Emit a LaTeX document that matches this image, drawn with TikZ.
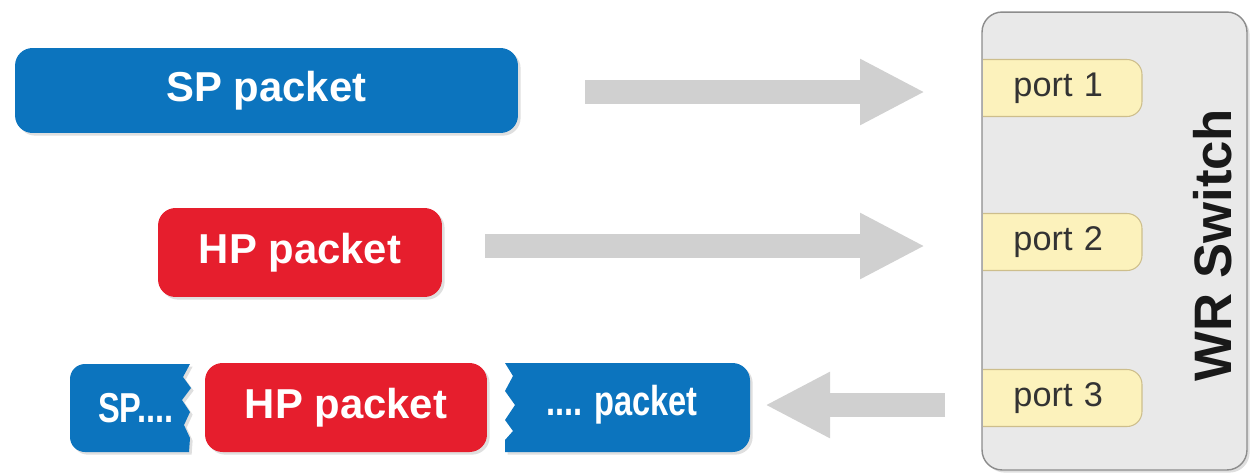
\documentclass[tikz,border=0pt]{standalone}
\usepackage{fontspec}
\setmainfont{Liberation Sans}
\newfontfamily\narrowsans[FakeStretch=0.78]{Liberation Sans}
\usepackage{tikz}
\usetikzlibrary{arrows.meta,shadows}

\definecolor{pktblue}{RGB}{12,116,190}
\definecolor{pktred}{RGB}{230,30,45}
\definecolor{flowgray}{RGB}{208,208,208}
\definecolor{swfill}{RGB}{233,233,233}
\definecolor{swline}{RGB}{140,140,140}
\definecolor{portfill}{RGB}{252,242,188}
\definecolor{portline}{RGB}{205,190,140}

\begin{document}
\begin{tikzpicture}[
x=0.02cm,
y=-0.02cm,
pktshadow/.style={drop shadow={shadow xshift=1.5pt,shadow yshift=-1.5pt,opacity=.25}},
pktbox/.style={rectangle,rounded corners=3.5mm,text=white,inner sep=0pt,pktshadow,font=\fontsize{23.8}{28}\selectfont\bfseries},
spbox/.style={pktbox,fill=pktblue},
hpbox/.style={pktbox,fill=pktred},
cuttext/.style={text=white,inner sep=0pt,font=\narrowsans\fontsize{23.8}{28}\selectfont\bfseries},
swbox/.style={rectangle,rounded corners=4mm,draw=swline,fill=swfill,line width=0.8pt,pktshadow},
portbox/.style={rectangle,rounded corners=3mm,draw=portline,fill=portfill,line width=0.6pt,minimum width=3.84cm,minimum height=1.14cm,text width=2.28cm,align=right,inner xsep=0pt,text=black!80,font=\fontsize{19.5}{22}\selectfont},
swlabel/.style={rotate=90,text=black!90,font=\fontsize{30}{34}\selectfont\bfseries},
flowarr/.style={draw=flowgray,line width=13.5pt,-{Triangle[length=37pt,width=35pt]}}
]
\useasboundingbox (0,0) rectangle (1250,474);

% switch and its ports
\node[swbox,minimum width=5.3cm,minimum height=9.16cm] (sw) at (1114.5,241) {};
\begin{scope}
\clip (983,0) rectangle (1250,474);
\node[portbox] (port1) at (1046,88) {port 1};
\node[portbox] (port2) at (1046,242) {port 2};
\node[portbox] (port3) at (1046,398) {port 3};
\end{scope}
\node[swlabel] (swname) at (1213,245) {WR Switch};

% incoming packets
\node[spbox,minimum width=10.06cm,minimum height=1.7cm] (sp) at (266.5,90.5) {SP packet};
\node[hpbox,minimum width=5.68cm,minimum height=1.78cm] (hp) at (300,252.5) {HP packet};

% outgoing frame: SP cut by HP
\fill[pktblue,pktshadow] (130,364) [rounded corners=3mm] -- (70,364) -- (70,452) -- (130,452) [sharp corners]
  -- (189,452) -- (190,438) -- (184,425) -- (190,412) -- (182,400) -- (191,388) -- (183,377) -- (190,364) -- cycle;
\node[hpbox,minimum width=5.64cm,minimum height=1.78cm] (hpout) at (346,407.5) {HP packet};
\fill[pktblue,pktshadow] (630,452) [rounded corners=3.5mm] -- (750,452) -- (750,363) -- (630,363) [sharp corners]
  -- (505,363) -- (513,376) -- (505,391) -- (515,405) -- (505,420) -- (513,431) -- (505,440) -- (505,452) -- cycle;
\node[cuttext] (spcut) at (136,408) {SP....};
\node[cuttext] (pktcut) at (622,405) {.... packet};

% gray flow arrows
\coordinate (in1) at (585,92);
\coordinate (to1) at (925,92);
\coordinate (in2) at (485,246);
\coordinate (to2) at (925,246);
\coordinate (out3) at (945,405);
\coordinate (to3) at (765,405);
\draw[flowarr] (in1) -- (to1);
\draw[flowarr] (in2) -- (to2);
\draw[flowarr] (out3) -- (to3);
\end{tikzpicture}
\end{document}
